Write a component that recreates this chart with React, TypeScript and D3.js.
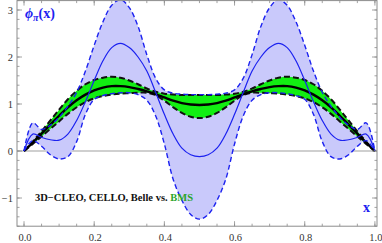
import * as d3 from 'd3';

// sample positions along x, and curves
const xs = [0, 0.025, 0.05, 0.075, 0.1, 0.125, 0.15, 0.175, 0.2, 0.225, 0.25, 0.275, 0.3, 0.325, 0.35, 0.375, 0.4, 0.425, 0.45, 0.475, 0.5,
  0.525, 0.55, 0.575, 0.6, 0.625, 0.65, 0.675, 0.7, 0.725, 0.75, 0.775, 0.8, 0.825, 0.85, 0.875, 0.9, 0.925, 0.95, 0.975, 1];

// 3D-CLEO, CELLO, Belle fit band (blue)
const blueUpper = [0, 0.6, 0.46, 0.55, 0.72, 0.95, 1.25, 1.7, 2.25, 2.75, 3.1, 3.22, 3.05, 2.65, 2.05, 1.55, 1.3, 1.23, 1.21, 1.2, 1.2,
  1.2, 1.21, 1.23, 1.3, 1.55, 2.05, 2.65, 3.05, 3.22, 3.1, 2.75, 2.25, 1.7, 1.25, 0.95, 0.72, 0.55, 0.46, 0.6, 0];
const blueLower = [0, 0.22, 0.1, -0.08, -0.17, -0.12, 0.2, 0.78, 1.1, 1.18, 1.22, 1.24, 1.24, 1.2, 1.08, 0.75, 0.15, -0.6, -1.05, -1.35, -1.45,
  -1.35, -1.05, -0.6, 0.15, 0.75, 1.08, 1.2, 1.24, 1.24, 1.22, 1.18, 1.1, 0.78, 0.2, -0.12, -0.17, -0.08, 0.1, 0.22, 0];
const blueMid = [0, 0.36, 0.29, 0.24, 0.23, 0.36, 0.65, 1.05, 1.5, 1.92, 2.2, 2.29, 2.2, 2.0, 1.7, 1.25, 0.78, 0.36, 0.06, -0.08, -0.12,
  -0.08, 0.06, 0.36, 0.78, 1.25, 1.7, 2.0, 2.2, 2.29, 2.2, 1.92, 1.5, 1.05, 0.65, 0.36, 0.23, 0.24, 0.29, 0.36, 0];

// BMS band (green) and central BMS curve
const greenUpper = [0, 0.2, 0.42, 0.65, 0.88, 1.1, 1.28, 1.42, 1.51, 1.56, 1.58, 1.56, 1.5, 1.42, 1.33, 1.26, 1.22, 1.2, 1.19, 1.19, 1.19,
  1.19, 1.19, 1.2, 1.22, 1.26, 1.33, 1.42, 1.5, 1.56, 1.58, 1.56, 1.51, 1.42, 1.28, 1.1, 0.88, 0.65, 0.42, 0.2, 0];
const greenLower = [0, 0.15, 0.31, 0.47, 0.63, 0.79, 0.93, 1.04, 1.12, 1.17, 1.2, 1.22, 1.23, 1.24, 1.24, 1.19, 1.07, 0.93, 0.81, 0.73, 0.7,
  0.73, 0.81, 0.93, 1.07, 1.19, 1.24, 1.24, 1.23, 1.22, 1.2, 1.17, 1.12, 1.04, 0.93, 0.79, 0.63, 0.47, 0.31, 0.15, 0];
const bms = [0, 0.18, 0.37, 0.56, 0.75, 0.93, 1.08, 1.2, 1.29, 1.35, 1.38, 1.38, 1.36, 1.32, 1.27, 1.21, 1.14, 1.07, 1.02, 0.99, 0.98,
  0.99, 1.02, 1.07, 1.14, 1.21, 1.27, 1.32, 1.36, 1.38, 1.38, 1.35, 1.29, 1.2, 1.08, 0.93, 0.75, 0.56, 0.37, 0.18, 0];

const xTicks = [0, 0.2, 0.4, 0.6, 0.8, 1.0];
const xTickLabels = ['0.0', '0.2', '0.4', '0.6', '0.8', '1.0'];
const yTicks = [-1, 0, 1, 2, 3];
const yTickLabels = ['\u22121', '0', '1', '2', '3'];

const W = 382;
const H = 243;
const font = '"Liberation Serif", "Times New Roman", serif';

export default function App() {
  const x = d3.scaleLinear().domain([-0.02, 1.006]).range([17, 377]);
  const y = d3.scaleLinear().domain([-1.6, 3.2]).range([226.2, 0.6]);
  const [x0, x1] = x.range();
  const [y0, y1] = y.range();

  const pts = (arr: number[]) => xs.map((v, i) => [v, arr[i]] as [number, number]);
  const line = d3.line<[number, number]>()
    .x(d => x(d[0])).y(d => y(d[1]))
    .curve(d3.curveCatmullRom.alpha(0.5));
  const band = (lo: number[], hi: number[]) =>
    d3.area<number>()
      .x(d => x(d))
      .y0((_, i) => y(lo[i]))
      .y1((_, i) => y(hi[i]))
      .curve(d3.curveCatmullRom.alpha(0.5))(xs) as string;

  const xMinor = x.ticks(20).filter(t => t >= 0 && t <= 1);
  const yMinor = y.ticks(24);

  const frameColor = '#8c8c8c';
  const blue = '#1c22f0';

  return (
    <svg width={W} height={H} style={{ position: 'absolute', left: 0, top: 0, background: '#fff' }}>
      <defs>
        <clipPath id="plot">
          <rect x={x0} y={y1} width={x1 - x0} height={y0 - y1} />
        </clipPath>
      </defs>

      <g clipPath="url(#plot)">
        {/* zero line */}
        <line x1={x0} x2={x1} y1={y(0)} y2={y(0)} stroke="#a0a0a0" strokeWidth={1.2} />

        <path d={band(blueLower, blueUpper)} fill="#c9c9fb" />
        <path d={band(greenLower, greenUpper)} fill="#12ee12" />

        <path d={line(pts(greenUpper)) as string} fill="none" stroke="#111" strokeWidth={2} strokeDasharray="6,3" />
        <path d={line(pts(greenLower)) as string} fill="none" stroke="#111" strokeWidth={2} strokeDasharray="6,3" />
        <path d={line(pts(bms)) as string} fill="none" stroke="#000" strokeWidth={2.4} />

        <path d={line(pts(blueUpper)) as string} fill="none" stroke={blue} strokeWidth={1.4} strokeDasharray="5,3" />
        <path d={line(pts(blueLower)) as string} fill="none" stroke={blue} strokeWidth={1.4} strokeDasharray="5,3" />
        <path d={line(pts(blueMid)) as string} fill="none" stroke={blue} strokeWidth={1.2} />
      </g>

      {/* frame */}
      <rect x={x0} y={y1} width={x1 - x0} height={y0 - y1} fill="none" stroke={frameColor} strokeWidth={1} />

      {/* ticks, pointing inside on all four sides */}
      <g stroke={frameColor} strokeWidth={0.8}>
        {xMinor.map(t => (
          <g key={'xm' + t}>
            <line x1={x(t)} x2={x(t)} y1={y0} y2={y0 - 2.5} />
            <line x1={x(t)} x2={x(t)} y1={y1} y2={y1 + 2.5} />
          </g>
        ))}
        {xTicks.map(t => (
          <g key={'xM' + t}>
            <line x1={x(t)} x2={x(t)} y1={y0} y2={y0 - 5} />
            <line x1={x(t)} x2={x(t)} y1={y1} y2={y1 + 5} />
          </g>
        ))}
        {yMinor.map(t => (
          <g key={'ym' + t}>
            <line x1={x0} x2={x0 + 2.5} y1={y(t)} y2={y(t)} />
            <line x1={x1} x2={x1 - 2.5} y1={y(t)} y2={y(t)} />
          </g>
        ))}
        {yTicks.map(t => (
          <g key={'yM' + t}>
            <line x1={x0} x2={x0 + 5} y1={y(t)} y2={y(t)} />
            <line x1={x1} x2={x1 - 5} y1={y(t)} y2={y(t)} />
          </g>
        ))}
      </g>

      {/* tick labels */}
      <g fontFamily={font} fontSize={10.5} fill="#333">
        {xTicks.map((t, i) => (
          <text key={'xl' + t} x={x(t) + 1} y={241} textAnchor="middle">{xTickLabels[i]}</text>
        ))}
        {yTicks.map((t, i) => (
          <text key={'yl' + t} x={13} y={y(t) + 3.5} textAnchor="end">{yTickLabels[i]}</text>
        ))}
      </g>

      {/* labels */}
      <text x={25} y={18} fontFamily={font} fontSize={14} fontWeight="bold" fontStyle="italic" fill={blue}>
        {'\u03d5'}
        <tspan fontSize={10} dy={3}>{'\u03c0'}</tspan>
        <tspan dy={-3} fontStyle="normal">(x)</tspan>
      </text>
      <text x={35} y={201} fontFamily={font} fontSize={10.5} fontWeight="bold" fill="#111">
        3D{'\u2212'}CLEO, CELLO, Belle vs. <tspan fill="#2aa52a">BMS</tspan>
      </text>
      <text x={363} y={212} fontFamily={font} fontSize={14} fontWeight="bold" fill={blue}>x</text>
    </svg>
  );
}
